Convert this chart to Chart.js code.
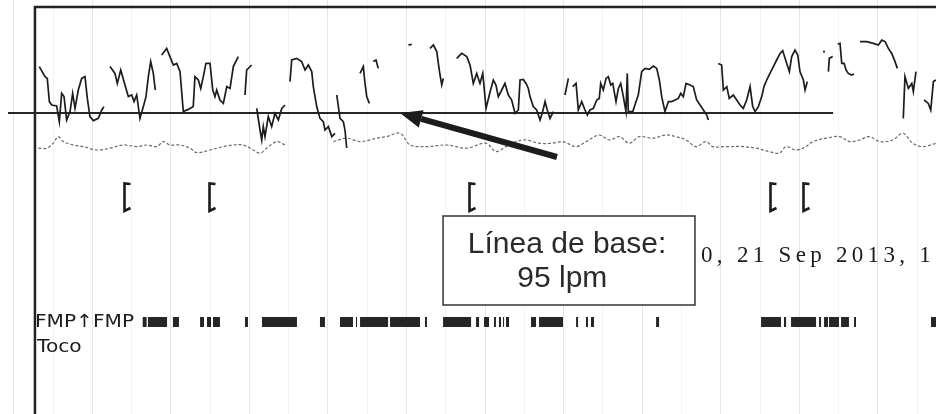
<!DOCTYPE html>
<html>
<head>
<meta charset="utf-8">
<script src="https://cdn.jsdelivr.net/npm/chart.js@4"></script>
<style>
  html, body { margin: 0; padding: 0; background: #fff; }
  #ctg { display: block; }
</style>
</head>
<body>
<canvas id="ctg" width="936" height="414"></canvas>
<script>
// Fetal heart rate (seconds, bpm) - null = signal lost
const fhrTime = [
  19.5,23.9,25.6,27.2,29.0,32.8,34.8,36.6,38.4,40.4,43.0,45.0,46.8,49.3,51.9,54.4,56.2,58.2,60.8,64.6,67.2,68.9,null,
  73.5,77.3,79.1,81.7,84.2,87.5,90.1,91.9,93.9,96.4,99.0,101.0,102.8,104.6,106.6,108.1,null,
  113.0,116.8,119.3,121.9,124.5,127.0,129.5,133.3,137.1,138.4,141.0,142.8,144.8,146.8,149.9,152.0,153.7,155.0,157.5,160.1,162.7,165.2,167.7,171.5,null,
  176.6,177.9,181.7,null,
  185.6,188.1,189.4,190.6,191.9,194.4,197.0,199.5,202.1,204.7,207.2,null,
  211.0,212.3,216.1,219.9,222.5,225.0,227.6,228.8,231.4,233.9,236.4,237.7,240.3,242.9,245.4,null,
  246.7,249.2,251.7,253.0,254.3,null,
  264.5,267.0,268.3,269.6,271.6,null,
  274.6,276.7,278.4,null,
  301.4,304.0,null,
  317.9,320.5,323.1,324.3,325.6,326.9,328.1,null,
  338.3,342.2,346.0,348.5,351.0,353.6,356.1,358.2,359.2,360.7,363.8,366.3,368.3,370.1,372.7,375.2,377.7,380.3,382.9,385.4,386.7,389.2,391.3,393.0,394.3,396.8,399.4,402.0,404.0,405.8,407.5,409.6,412.1,null,
  421.0,423.6,null,
  426.9,429.5,431.2,433.8,436.3,438.1,440.1,442.7,445.3,447.2,448.3,450.3,452.4,454.1,456.0,457.5,460.0,461.8,463.6,465.6,467.6,468.6,469.4,472.8,475.3,477.0,479.6,482.2,485.4,488.5,491.1,493.1,494.9,497.4,500.0,502.5,505.1,507.6,509.4,511.4,513.5,516.5,519.0,521.6,524.2,526.7,529.3,530.5,null,
  538.1,540.7,542.0,544.6,546.5,549.6,552.2,554.7,557.2,559.8,562.4,564.4,566.2,568.7,571.3,573.0,575.1,577.6,580.2,582.7,585.3,587.3,589.9,592.4,594.2,596.7,598.8,600.5,603.1,604.4,606.1,null,
  618.1,619.6,null,
  622.2,622.9,625.5,null,
  629.3,631.1,632.4,634.2,635.7,637.4,640.0,641.8,null,
  646.4,651.5,656.5,660.4,663.0,665.5,668.0,670.6,673.1,674.9,null,
  679.4,680.7,683.3,685.9,687.1,689.1,null,
  695.3,698.5,700.4,702.4,704.4
];
const fhrBpm = [
  118.2,113.2,112.3,100.7,99,98.5,90.7,104.8,103.2,91.5,95.7,104.8,97.3,106.5,112.3,113.2,102.3,93.2,91.2,92.3,96.5,98.2,null,
  118.2,114.8,109.8,116.5,110.7,103.2,104,100.7,104,92.3,98.2,103.2,113.2,120.7,114.8,106.5,null,
  124,127.3,123.2,119,119.8,115.7,95.7,96.8,98.2,113.2,111.5,107.3,113.2,119.8,119.8,106.5,103.2,106.5,101.5,99.8,108.2,107.3,118.2,123.2,null,
  104,116.5,119,null,
  97.3,86.5,81.5,88.2,83.2,93.2,88.2,94.8,91.5,97.3,99,null,
  110.7,121.5,122.3,120.7,116.5,119,115.7,108.2,98.2,92.3,90.7,86.5,88.2,83.2,84.8,null,
  104,92.3,90.7,86.5,77.5,null,
  114.8,118.2,109.8,103.2,99.8,null,
  120.7,121.5,117.3,null,
  129,129.3,null,
  127.3,129,125.7,119.8,114,109,112.3,null,
  122.3,124.8,123.2,119,109.8,114.8,109.8,114.8,108.2,97.3,105.5,111.5,109,103.2,106.5,109.8,104,101.5,94.8,96.5,111.5,111.8,109.8,107.3,103.2,98.2,96.5,91.5,95.7,100.7,96.5,92.3,95.7,null,
  104,112.3,null,
  108.2,109.8,96.5,100.7,96.5,94,96.5,97.3,101.5,102.3,109.8,106.5,112.3,113.2,109,109.8,100.7,107.3,109.8,103.2,95.7,114.8,95.7,95.7,100.7,104,115.7,117.3,116.8,118.5,117.3,111.5,103.2,95.7,100.7,100.7,101.5,102.3,104.8,103.2,109.8,109,108.2,101.5,99,96.5,94,91.5,null,
  119.8,119,106.5,108.2,102.3,104,101.5,99,97.3,101.5,108.2,98.2,95.7,98.2,103.2,108.2,111.5,114.8,118.2,121.5,124.8,126.2,120.7,115.7,123.2,126.5,124,115.7,111.5,106.5,110.7,null,
  125.7,125.7,null,
  115.7,122.3,123.2,null,
  129.5,129.8,119.8,119.8,116.5,114.8,114,114.5,null,
  130.7,130.7,129.8,129,131.5,130.7,127.3,124.8,120.7,117.3,null,
  92.3,113.2,107.3,109.8,105.7,115.7,null,
  101.5,99.8,96.5,110.7,111.5
];

// Maternal heart rate (dotted trace)
const matTime = [
  18.8,25.2,30.2,34.0,37.9,45.5,53.1,63.4,73.5,83.7,93.9,101.5,109.2,114.2,119.3,127.0,134.6,139.7,149.9,160.1,167.7,175.3,183.0,188.1,193.2,200.8,207.2,null,
  244.1,254.3,264.5,277.2,284.9,295.0,302.7,315.4,330.7,346.0,360.7,368.3,376.0,383.6,391.3,401.2,411.6,419.3,429.5,437.1,447.2,454.9,462.5,470.2,477.8,488.0,498.2,505.8,513.5,521.1,528.7,533.9,544.0,556.8,566.9,577.1,584.7,589.9,597.5,605.1,610.3,620.4,630.6,638.2,645.8,653.5,661.1,671.4,679.0,686.6,694.3,704.4
];
const matBpm = [
  77.4,77.4,79.9,83.2,80.7,79,78.2,76.5,77.4,79,78.2,79,78.2,80.7,79,79,77.4,75.2,76.5,78.2,79,79,76.5,74.9,77.4,80.7,79,null,
  80.7,82.4,80.7,82.4,83.2,84.9,79,78.2,79,77.4,79.9,75.7,78.2,80.7,81.5,79.9,79.9,80.7,78.2,80.7,84,81.5,83.2,79.9,83.2,82.4,84,83.2,81.5,78.2,80.7,78.2,78.2,78.2,77.4,75.7,74.9,78.2,76.5,78.2,80.7,82.4,83.2,80.7,81.5,83.2,80.7,81.5,84.9,79.9,78.2,79.9
];

// Event marks, fetal movement (FMP) blocks
const eventTime = [86.5, 151.4, 350.0, 579.9, 605.1];
const fmpStart = [98.5,102.5,121.6,142.3,147.6,152.2,176.6,189.6,233.9,249.2,261.4,264.5,287.4,314.1,327.9,353.1,359.2,366.8,370.6,373.7,376.0,395.1,401.2,429.5,437.1,440.9,490.6,570.8,588.3,593.7,615.1,618.9,622.7,631.9,641.8,700.6];
const fmpEnd   = [101.5,117.1,126.2,145.3,150.7,157.5,178.9,216.3,237.7,259.1,262.2,285.9,310.3,315.6,349.3,355.4,363.0,368.3,372.2,374.5,378.3,398.9,419.5,431.0,438.6,443.2,492.9,586.0,589.9,612.8,616.6,621.9,630.3,637.9,643.3,704.4];

const baselineBpm = 95;
const baselineFrom = -4.4, baselineTo = 625.8;
const eventBpm = 53, fmpBpm = -9.5;
const xMin = -10.5, xMax = 704.4, yMin = -55.5, yMax = 151.5;
const frameTime = 16.2, frameTop = 148;

const arrowTail = [414.9, 73], arrowTip = [295.0, 95];
const boxLeft = 327.9, boxRight = 520.3, boxTop = 43.5, boxBottom = -1;
const boxLines = ["Línea de base:", "95 lpm"];
const boxLineAt = [[422.6, 25], [419.0, 8]];
const dateLabel = "0, 21 Sep 2013, 1";
const dateAt = [524.9, 20.5];
const fmpLabel = "FMP\u2191FMP", tocoLabel = "Toco";
const fmpLabelAt = [16.2, -12], tocoLabelAt = [17.8, -24.5];

const ink = "#1c1c1c";

function toPoints(ts, vs) {
  return ts.map((t, i) => ({ x: t === null ? ts[i - 1] : t, y: vs[i] }));
}

const fmpPoints = [];
fmpStart.forEach((s, i) => {
  fmpPoints.push({ x: s, y: fmpBpm }, { x: fmpEnd[i], y: fmpBpm }, { x: fmpEnd[i], y: null });
});

// "[" event glyph
const bracket = document.createElement("canvas");
bracket.width = 10; bracket.height = 32;
(function () {
  const c = bracket.getContext("2d");
  c.strokeStyle = ink; c.lineWidth = 2.6; c.lineJoin = "miter";
  c.beginPath();
  c.moveTo(8.5, 3); c.lineTo(2.5, 2.5); c.lineTo(2.5, 30); c.lineTo(8.5, 27);
  c.stroke();
})();

const notes = {
  id: "notes",
  afterDatasetsDraw(chart) {
    const { ctx, scales: { x, y } } = chart;
    const X = v => x.getPixelForValue(v), Y = v => y.getPixelForValue(v);
    ctx.save();

    // arrow pointing at the baseline
    const x0 = X(arrowTail[0]), y0 = Y(arrowTail[1]);
    const x1 = X(arrowTip[0]), y1 = Y(arrowTip[1]);
    const a = Math.atan2(y0 - y1, x0 - x1);
    const hl = 22, hw = 9;
    const bx = x1 + Math.cos(a) * hl, by = y1 + Math.sin(a) * hl;
    ctx.strokeStyle = ink; ctx.fillStyle = ink; ctx.lineWidth = 6;
    ctx.beginPath(); ctx.moveTo(x0, y0); ctx.lineTo(bx, by); ctx.stroke();
    ctx.beginPath();
    ctx.moveTo(x1, y1);
    ctx.lineTo(bx - Math.sin(a) * hw, by + Math.cos(a) * hw);
    ctx.lineTo(bx + Math.sin(a) * hw, by - Math.cos(a) * hw);
    ctx.closePath(); ctx.fill();

    // date stamp (printer's serif mono look)
    ctx.font = '23px "Liberation Serif"';
    ctx.letterSpacing = "4.3px";
    ctx.textAlign = "left"; ctx.textBaseline = "alphabetic";
    ctx.fillText(dateLabel, X(dateAt[0]), Y(dateAt[1]));
    ctx.letterSpacing = "0px";

    // FMP / Toco labels
    ctx.font = '18px "DejaVu Sans"';
    [[fmpLabel, fmpLabelAt], [tocoLabel, tocoLabelAt]].forEach(([txt, at]) => {
      ctx.save();
      ctx.translate(X(at[0]), Y(at[1]));
      ctx.scale(1.12, 1);
      ctx.fillText(txt, 0, 0);
      ctx.restore();
    });

    // annotation box
    const bl = X(boxLeft), br = X(boxRight), bt = Y(boxTop), bb = Y(boxBottom);
    ctx.fillStyle = "#fff";
    ctx.fillRect(bl, bt, br - bl, bb - bt);
    ctx.strokeStyle = "#333"; ctx.lineWidth = 1.5;
    ctx.strokeRect(bl, bt, br - bl, bb - bt);
    ctx.fillStyle = "#2a2a2a";
    ctx.font = '30px "Liberation Sans"';
    ctx.textAlign = "center";
    boxLines.forEach((txt, i) => ctx.fillText(txt, X(boxLineAt[i][0]), Y(boxLineAt[i][1])));

    ctx.restore();
  }
};

new Chart(document.getElementById("ctg"), {
  type: "line",
  data: {
    datasets: [
      {
        label: "FCF",
        data: toPoints(fhrTime, fhrBpm),
        borderColor: ink,
        borderWidth: 1.7,
        pointRadius: 0,
        spanGaps: false,
        tension: 0
      },
      {
        label: "FC materna",
        data: toPoints(matTime, matBpm),
        borderColor: "#6a6a6a",
        borderWidth: 1.2,
        borderDash: [3, 2],
        pointRadius: 0,
        spanGaps: false,
        tension: 0.35
      },
      {
        label: "Línea de base",
        data: [{ x: baselineFrom, y: baselineBpm }, { x: baselineTo, y: baselineBpm }],
        borderColor: "#262626",
        borderWidth: 2,
        pointRadius: 0
      },
      {
        label: "Marco",
        data: [{ x: frameTime, y: yMin }, { x: frameTime, y: frameTop }, { x: xMax, y: frameTop }],
        borderColor: "#222",
        borderWidth: 2.5,
        pointRadius: 0
      },
      {
        label: "Eventos",
        type: "scatter",
        data: eventTime.map(t => ({ x: t, y: eventBpm })),
        pointStyle: bracket,
        pointRadius: 10,
        showLine: false
      },
      {
        label: "FMP",
        data: fmpPoints,
        borderColor: "#262626",
        borderWidth: 10,
        borderCapStyle: "butt",
        pointRadius: 0,
        spanGaps: false
      }
    ]
  },
  options: {
    responsive: false,
    animation: false,
    events: [],
    layout: { padding: 0, autoPadding: false },
    plugins: { legend: { display: false }, tooltip: { enabled: false } },
    scales: {
      x: {
        type: "linear",
        min: xMin,
        max: xMax,
        ticks: { display: false, stepSize: 30, includeBounds: false },
        grid: {
          drawTicks: false,
          lineWidth: 1,
          color: c => (c.tick && Math.round(c.tick.value) % 60 === 0) ? "rgba(0,0,0,0.1)" : "rgba(0,0,0,0.045)"
        },
        border: { display: false }
      },
      y: { display: false, min: yMin, max: yMax }
    }
  },
  plugins: [notes]
});
</script>
</body>
</html>
